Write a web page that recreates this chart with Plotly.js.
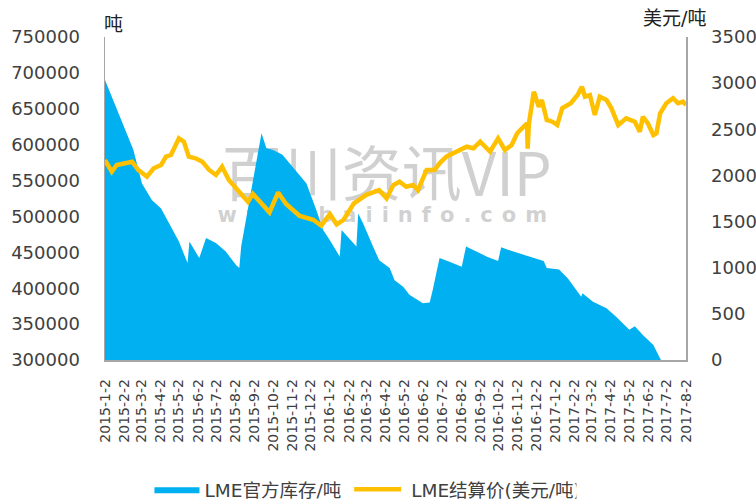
<!DOCTYPE html>
<html>
<head>
<meta charset="utf-8">
<script src="https://cdn.plot.ly/plotly-3.0.1.min.js"></script>
<style>
  html, body { margin: 0; padding: 0; background: #ffffff; }
  #chart { width: 756px; height: 504px; }
</style>
</head>
<body>
<div id="chart"></div>
<script>
// ---- Data ----
const stockDates = [
  "2015-01-02","2015-01-26","2015-02-17","2015-03-03","2015-03-19","2015-04-03","2015-04-16","2015-05-02",
  "2015-05-16","2015-05-19","2015-06-04","2015-06-15","2015-07-01","2015-07-17","2015-08-03","2015-08-08",
  "2015-08-11","2015-09-13","2015-09-21","2015-10-01","2015-10-17","2015-11-03","2015-11-25","2015-12-11",
  "2015-12-22","2016-01-02","2016-01-18","2016-01-21","2016-02-04","2016-02-14","2016-02-17","2016-02-25",
  "2016-03-12","2016-03-22","2016-04-08","2016-04-16","2016-04-30","2016-05-10","2016-06-01","2016-06-12",
  "2016-06-17","2016-06-28","2016-07-14","2016-08-03","2016-08-10","2016-08-27","2016-09-13","2016-10-01",
  "2016-10-06","2016-10-26","2016-11-22","2016-12-14","2016-12-19","2017-01-08","2017-01-22","2017-02-13",
  "2017-02-15","2017-03-04","2017-03-26","2017-04-11","2017-05-02","2017-05-11","2017-05-24","2017-06-10",
  "2017-06-21","2017-06-24","2017-08-02"
];
const stockValues = [
  690000,639000,593000,546000,523000,511000,490000,465000,
  435000,465000,442000,470000,463000,451000,432000,428000,
  458000,616000,595000,593000,586000,569000,546000,509000,
  481000,467000,444000,481000,467000,458000,504000,490000,
  458000,439000,428000,411000,402000,391000,379000,380000,
  398000,442000,437000,430000,458000,451000,444000,438000,
  457000,451000,444000,438000,428000,426000,414000,388000,
  393000,381000,372000,360000,342000,347000,335000,321000,
  302000,298000,298000
];

const priceDates = [
  "2015-01-02","2015-01-13","2015-01-21","2015-02-04","2015-02-15","2015-02-25","2015-03-11","2015-03-22",
  "2015-04-03","2015-04-11","2015-04-19","2015-05-02","2015-05-10","2015-05-18","2015-05-29","2015-06-09",
  "2015-06-20","2015-07-01","2015-07-11","2015-07-22","2015-08-08","2015-08-22","2015-08-30","2015-09-26",
  "2015-10-10","2015-10-23","2015-11-14","2015-12-06","2015-12-19","2016-01-02","2016-01-13","2016-01-24",
  "2016-02-10","2016-03-01","2016-03-22","2016-04-03","2016-04-14","2016-04-24","2016-05-05","2016-05-16",
  "2016-05-24","2016-06-07","2016-06-20","2016-06-28","2016-07-09","2016-07-25","2016-08-11","2016-08-22",
  "2016-09-02","2016-09-18","2016-10-01","2016-10-12","2016-10-23","2016-11-01","2016-11-12","2016-11-17",
  "2016-11-18","2016-11-20","2016-11-28","2016-12-06","2016-12-11","2016-12-19","2016-12-28","2017-01-05",
  "2017-01-13","2017-01-27","2017-02-07","2017-02-14","2017-02-19","2017-02-27","2017-03-07","2017-03-15",
  "2017-03-26","2017-04-03","2017-04-14","2017-04-27","2017-05-11","2017-05-19","2017-05-24","2017-06-01",
  "2017-06-10","2017-06-15","2017-06-21","2017-07-01","2017-07-12","2017-07-20","2017-07-28","2017-08-02"
];
const priceValues = [
  2167,2040,2113,2131,2149,2059,1987,2077,
  2113,2203,2221,2402,2366,2203,2186,2149,
  2059,2005,2095,1950,1824,1715,1800,1600,
  1815,1690,1560,1520,1455,1580,1470,1517,
  1698,1790,1840,1752,1896,1932,1878,1896,
  1842,2059,2059,2131,2203,2257,2311,2294,
  2366,2257,2402,2276,2330,2457,2528,2565,
  2290,2560,2907,2745,2817,2601,2582,2546,
  2727,2782,2871,2961,2853,2871,2655,2853,
  2817,2727,2546,2619,2582,2474,2636,2565,
  2438,2457,2673,2782,2836,2782,2800,2763
];

const tickDates = [
  "2015-01-02","2015-02-02","2015-03-02","2015-04-02","2015-05-02","2015-06-02","2015-07-02","2015-08-02",
  "2015-09-02","2015-10-02","2015-11-02","2015-12-02","2016-01-02","2016-02-02","2016-03-02","2016-04-02",
  "2016-05-02","2016-06-02","2016-07-02","2016-08-02","2016-09-02","2016-10-02","2016-11-02","2016-12-02",
  "2017-01-02","2017-02-02","2017-03-02","2017-04-02","2017-05-02","2017-06-02","2017-07-02","2017-08-02"
];
const tickLabels = [
  "2015-1-2","2015-2-2","2015-3-2","2015-4-2","2015-5-2","2015-6-2","2015-7-2","2015-8-2",
  "2015-9-2","2015-10-2","2015-11-2","2015-12-2","2016-1-2","2016-2-2","2016-3-2","2016-4-2",
  "2016-5-2","2016-6-2","2016-7-2","2016-8-2","2016-9-2","2016-10-2","2016-11-2","2016-12-2",
  "2017-1-2","2017-2-2","2017-3-2","2017-4-2","2017-5-2","2017-6-2","2017-7-2","2017-8-2"
];

const seriesNames = ["LME官方库存/吨", "LME结算价(美元/吨)"];

// ---- Chart ----
const FONT = "DejaVu Sans, 'Noto Sans CJK SC', sans-serif";
const TXT = "#404040";

const traces = [
  {
    x: stockDates, y: stockValues, name: seriesNames[0],
    type: "scatter", mode: "lines", fill: "tozeroy",
    fillcolor: "#00B0F0", line: { color: "#00B0F0", width: 0 },
    yaxis: "y", hoverinfo: "skip"
  },
  {
    x: priceDates, y: priceValues, name: seriesNames[1],
    type: "scatter", mode: "lines",
    line: { color: "#FFC000", width: 4.5 },
    yaxis: "y2", hoverinfo: "skip"
  }
];

const layout = {
  width: 756, height: 504,
  margin: { l: 105, r: 70, t: 37, b: 144, autoexpand: false },
  paper_bgcolor: "#ffffff", plot_bgcolor: "rgba(0,0,0,0)",
  font: { family: FONT, color: TXT, size: 17 },
  showlegend: true,
  legend: {
    orientation: "h", x: 0.444, xanchor: "center", y: -0.402, yanchor: "middle",
    font: { family: FONT, size: 18.5, color: TXT }, itemwidth: 45,
    traceorder: "normal", bgcolor: "rgba(0,0,0,0)"
  },
  xaxis: {
    type: "date", range: ["2015-01-02", "2017-08-02"],
    tickmode: "array", tickvals: tickDates, ticktext: tickLabels,
    tickangle: -90, tickfont: { size: 14, color: TXT, family: FONT },
    ticks: "", ticklabelstandoff: 12, automargin: false,
    showline: true, linecolor: "#A6A6A6", linewidth: 1.5,
    showgrid: false, zeroline: false, fixedrange: true
  },
  yaxis: {
    range: [300000, 750000], dtick: 50000, tick0: 300000, tickformat: "d",
    tickfont: { size: 18, color: TXT, family: FONT },
    ticks: "", ticklabelstandoff: 20, automargin: false,
    showline: true, linecolor: "#A6A6A6", linewidth: 1.5,
    showgrid: false, zeroline: false, fixedrange: true
  },
  yaxis2: {
    overlaying: "y", side: "right",
    range: [0, 3500], dtick: 500, tick0: 0, tickformat: "d",
    tickfont: { size: 18, color: TXT, family: FONT },
    ticks: "", ticklabelstandoff: 20, automargin: false,
    showline: true, linecolor: "#A6A6A6", linewidth: 1.5,
    showgrid: false, zeroline: false, fixedrange: true
  },
  annotations: [
    { text: "吨", xref: "paper", yref: "paper", x: 0, y: 1, xanchor: "left", yanchor: "bottom",
      xshift: -3, yshift: 0, showarrow: false, font: { family: FONT, size: 19, color: "#222" } },
    { text: "美元/吨", xref: "paper", yref: "paper", x: 1, y: 1, xanchor: "right", yanchor: "bottom",
      xshift: 22, yshift: 6, showarrow: false, font: { family: FONT, size: 19, color: "#222" } }
  ],
  shapes: [
    { type: "rect", xref: "paper", yref: "paper", x0: 0.20, x1: 0.77, y0: 0.475, y1: 0.645,
      layer: "below", line: { width: 0 }, fillcolor: "rgba(0,0,0,0)",
      label: { text: "百川资讯VIP", textposition: "middle center",
               font: { family: "'Noto Sans CJK SC', sans-serif", size: 60, color: "rgba(170,170,170,0.55)" } } },
    { type: "rect", xref: "paper", yref: "paper", x0: 0.20, x1: 0.77, y0: 0.42, y1: 0.49,
      layer: "below", line: { width: 0 }, fillcolor: "rgba(0,0,0,0)",
      label: { text: "www.baiinfo.com", textposition: "middle center",
               font: { family: "DejaVu Sans, sans-serif", size: 21, weight: "bold", color: "rgba(170,170,170,0.55)" } } }
  ]
};

Plotly.newPlot("chart", traces, layout, { displayModeBar: false, staticPlot: true }).then(function () {
  // widen the letter spacing of the watermark's web address, as in the reference
  document.querySelectorAll("#chart text").forEach(function (t) {
    if (t.textContent === "www.baiinfo.com") {
      t.setAttribute("letter-spacing", "9px");
      t.style.letterSpacing = "9px";
    }
  });
  // lengthen the legend line swatch and widen the gap between legend entries
  document.querySelectorAll("#chart .legendlines path").forEach(function (p) {
    p.setAttribute("d", "M-2,0h47");
  });
  const items = document.querySelectorAll("#chart .legend .traces");
  if (items.length > 1) {
    const it = items[1];
    const tr = it.getAttribute("transform") || "";
    const m = tr.match(/translate\(\s*([-\d.]+)[ ,]+([-\d.]+)\s*\)/);
    if (m) {
      it.setAttribute("transform", "translate(" + (parseFloat(m[1]) + 10) + "," + m[2] + ")");
    }
  }
});
</script>
</body>
</html>
